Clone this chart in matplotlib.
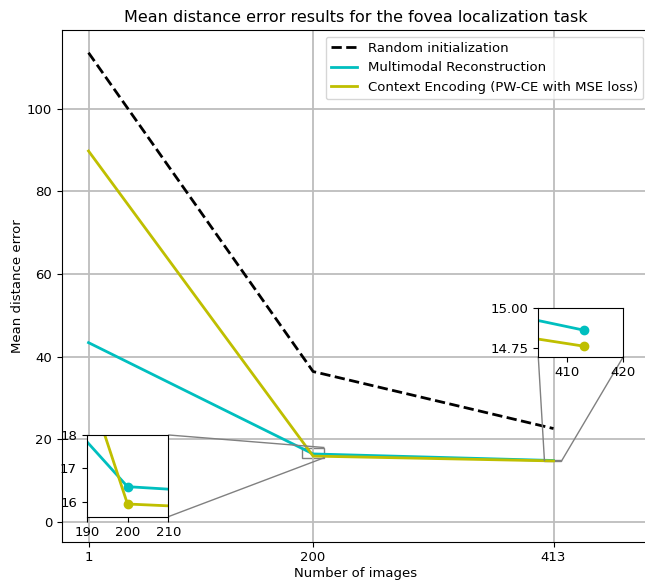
import numpy as np
import matplotlib
matplotlib.use("Agg")
import matplotlib.pyplot as plt
from matplotlib.ticker import FormatStrFormatter
from mpl_toolkits.axes_grid1.inset_locator import mark_inset

plt.rcParams["font.size"] = 9.5

# number of training images
n_images = [1, 200, 413]
# mean distance error per method
random_init = [113.6, 36.4, 22.6]
multimodal = [43.4, 16.45, 14.86]
context_enc = [89.8, 15.93, 14.76]

labels = ["Random initialization", "Multimodal Reconstruction",
          "Context Encoding (PW-CE with MSE loss)"]

fig = plt.figure(figsize=(6.45, 5.81), dpi=100)
ax = fig.add_axes([62 / 645, 1 - 541.7 / 581, 588 / 645, 511.7 / 581])

ax.plot(n_images, random_init, "k--", lw=2, label=labels[0])
ax.plot(n_images, multimodal, color="c", lw=2, label=labels[1])
ax.plot(n_images, context_enc, color="y", lw=2, label=labels[2])

ax.set_xlim(-22.5, 498.5)
ax.set_ylim(-4.8, 119.1)
ax.set_xticks(n_images)
ax.set_yticks([0, 20, 40, 60, 80, 100])
ax.grid(True, color="#bdbdbd", lw=1.3)
ax.set_xlabel("Number of images", labelpad=2)
ax.set_ylabel("Mean distance error", labelpad=2)
ax.set_title("Mean distance error results for the fovea localization task",
             fontsize=11.5)
ax.legend(loc="upper right")

# zoom around 200 images
axins1 = ax.inset_axes([0.042, 0.0489, 0.1388, 0.1597])
axins1.plot(n_images, multimodal, color="c", lw=2, marker="o", ms=6)
axins1.plot(n_images, context_enc, color="y", lw=2, marker="o", ms=6)
axins1.plot(n_images, random_init, "k--", lw=2)
axins1.set_xlim(190, 210)
axins1.set_ylim(15.55, 18.0)
axins1.set_xticks([190, 200, 210])
axins1.set_yticks([16, 17, 18])
mark_inset(ax, axins1, loc1=1, loc2=4, fc="none", ec="0.5")

# zoom around 413 images
axins2 = ax.inset_axes([0.810, 0.3615, 0.1446, 0.0958])
axins2.plot(n_images, multimodal, color="c", lw=2, marker="o", ms=6)
axins2.plot(n_images, context_enc, color="y", lw=2, marker="o", ms=6)
axins2.set_xlim(405, 420)
axins2.set_ylim(14.694, 15.0)
axins2.set_xticks([410, 420])
axins2.set_yticks([14.75, 15.00])
axins2.yaxis.set_major_formatter(FormatStrFormatter("%.2f"))
mark_inset(ax, axins2, loc1=3, loc2=4, fc="none", ec="0.5")

fig.savefig("out.png", dpi=100)
